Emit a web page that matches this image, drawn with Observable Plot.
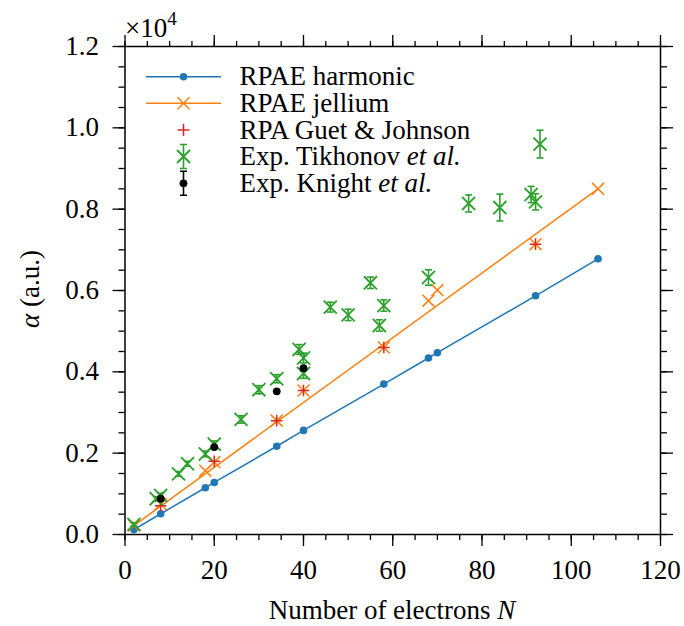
<!DOCTYPE html>
<html><head><meta charset="utf-8">
<script src="https://cdn.jsdelivr.net/npm/d3@7"></script>
<script src="https://cdn.jsdelivr.net/npm/@observablehq/plot@0.6"></script>
<style>body{margin:0;background:#fff}svg{display:block}</style>
</head><body><div id="chart"></div>
<script>
// RPAE harmonic
const harmN = [2, 8, 18, 20, 34, 40, 58, 68, 70, 92, 106];
const harmA = [0.012, 0.051, 0.115, 0.128, 0.217, 0.256, 0.370, 0.434, 0.447, 0.587, 0.678];
// RPAE jellium markers
const jellN = [2, 8, 18, 20, 34, 40, 58, 68, 70, 92, 106];
const jellA = [0.022, 0.075, 0.157, 0.178, 0.280, 0.354, 0.460, 0.575, 0.601, 0.714, 0.850];
// RPAE jellium line (end points)
const jellLineN = [2, 106];
const jellLineA = [0.022, 0.850];
// RPA Guet & Johnson
const gjN = [8, 20, 34, 40, 58, 92];
const gjA = [0.071, 0.180, 0.280, 0.354, 0.460, 0.714];
// Exp. Tikhonov et al.
const tkN = [2, 7, 8, 12, 14, 18, 20, 26, 30, 34, 39, 40, 40, 46, 50, 55, 57, 58, 68, 77, 84, 91, 92, 93];
const tkA = [0.025, 0.088, 0.096, 0.149, 0.174, 0.198, 0.222, 0.283, 0.356, 0.383, 0.455, 0.434, 0.396, 0.559, 0.540, 0.619, 0.514, 0.563, 0.632, 0.814, 0.804, 0.836, 0.818, 0.960];
const tkErr = [0.004, 0.005, 0.005, 0.006, 0.006, 0.007, 0.008, 0.009, 0.010, 0.010, 0.012, 0.012, 0.012, 0.012, 0.014, 0.014, 0.014, 0.014, 0.019, 0.021, 0.033, 0.020, 0.020, 0.034];
// Exp. Knight et al.
const knN = [8, 20, 34, 40];
const knA = [0.088, 0.215, 0.352, 0.409];
const knErr = [0.005, 0.006, 0.007, 0.008];
// ticks
const xMajor = [0, 20, 40, 60, 80, 100, 120];
const xMinor = [0, 5, 10, 15, 20, 25, 30, 35, 40, 45, 50, 55, 60, 65, 70, 75, 80, 85, 90, 95, 100, 105, 110, 115, 120];
const yMajor = [0, 0.2, 0.4, 0.6, 0.8, 1.0, 1.2];
const yMinor = [0, 0.05, 0.1, 0.15, 0.2, 0.25, 0.3, 0.35, 0.4, 0.45, 0.5, 0.55, 0.6, 0.65, 0.7, 0.75, 0.8, 0.85, 0.9, 0.95, 1.0, 1.05, 1.1, 1.15, 1.2];

const BLUE = "#1f77b4", ORANGE = "#ff7f0e", GREEN = "#2ca02c", RED = "#d62728";

const zip = (ns, as, es) => ns.map((n, i) => ({n, a: as[i], e: es ? es[i] : 0}));
const harm = zip(harmN, harmA);
const jell = zip(jellN, jellA);
const jellLine = zip(jellLineN, jellLineA);
const gj = zip(gjN, gjA);
const tk = zip(tkN, tkA, tkErr);
const kn = zip(knN, knA, knErr);

const cap = {draw(ctx, size) { const r = Math.sqrt(size / Math.PI); ctx.moveTo(-r, 0); ctx.lineTo(r, 0); }};
const blank = () => "";
const tw = 1.3;

const plot = Plot.plot({
  width: 684, height: 626,
  marginLeft: 124.5, marginRight: 24, marginTop: 46, marginBottom: 92,
  style: {fontFamily: "'Liberation Serif', serif", fontSize: "27px", background: "#fff", color: "#000"},
  x: {domain: [0, 120]},
  y: {domain: [0, 1.2]},
  marks: [
    Plot.axisX({anchor: "bottom", ticks: xMajor, tickSize: 12, tickPadding: 13, tickFormat: d3.format("d"), label: null, strokeWidth: tw}),
    Plot.axisX({anchor: "bottom", ticks: xMinor, tickSize: 6, tickFormat: blank, label: null, strokeWidth: tw}),
    Plot.axisX({anchor: "top", ticks: xMajor, tickSize: 12, tickFormat: blank, label: null, strokeWidth: tw}),
    Plot.axisX({anchor: "top", ticks: xMinor, tickSize: 6, tickFormat: blank, label: null, strokeWidth: tw}),
    Plot.axisY({anchor: "left", ticks: yMajor, tickSize: 12, tickPadding: 14, tickFormat: d3.format(".1f"), label: null, strokeWidth: tw}),
    Plot.axisY({anchor: "left", ticks: yMinor, tickSize: 6, tickFormat: blank, label: null, strokeWidth: tw}),
    Plot.axisY({anchor: "right", ticks: yMajor, tickSize: 12, tickFormat: blank, label: null, strokeWidth: tw}),
    Plot.axisY({anchor: "right", ticks: yMinor, tickSize: 6, tickFormat: blank, label: null, strokeWidth: tw}),
    Plot.frame({stroke: "#000", strokeWidth: 1.5}),
    Plot.line(harm, {x: "n", y: "a", stroke: BLUE, strokeWidth: 1.5}),
    Plot.dot(harm, {x: "n", y: "a", r: 3.8, fill: BLUE, stroke: "none"}),
    Plot.line(jellLine, {x: "n", y: "a", stroke: ORANGE, strokeWidth: 1.5}),
    Plot.dot(jell, {x: "n", y: "a", symbol: "times", r: 5.5, stroke: ORANGE, strokeWidth: 1.5}),
    Plot.dot(gj, {x: "n", y: "a", symbol: "plus", r: 3.8, stroke: RED, strokeWidth: 1.5}),
    Plot.ruleX(tk, {x: "n", y1: d => d.a - d.e, y2: d => d.a + d.e, stroke: GREEN, strokeWidth: 1.6}),
    Plot.dot(tk, {x: "n", y: d => d.a + d.e, symbol: cap, r: 3.5, stroke: GREEN, strokeWidth: 1.6}),
    Plot.dot(tk, {x: "n", y: d => d.a - d.e, symbol: cap, r: 3.5, stroke: GREEN, strokeWidth: 1.6}),
    Plot.dot(tk, {x: "n", y: "a", symbol: "times", r: 6, stroke: GREEN, strokeWidth: 1.8}),
    Plot.ruleX(kn, {x: "n", y1: d => d.a - d.e, y2: d => d.a + d.e, stroke: "#000", strokeWidth: 1.6}),
    Plot.dot(kn, {x: "n", y: "a", r: 3.9, fill: "#000", stroke: "none"})
  ]
});
document.getElementById("chart").appendChild(plot);

// overlay text and legend
const svg = d3.select(plot);
const F = "'Liberation Serif', serif";
// x label
const xl = svg.append("text").attr("x", 392).attr("y", 619).attr("text-anchor", "middle")
  .attr("font-family", F).attr("font-size", 27).attr("fill", "#000");
xl.append("tspan").text("Number of electrons ");
xl.append("tspan").attr("font-style", "italic").text("N");
// y label
const yl = svg.append("text").attr("transform", "translate(38.5,289) rotate(-90)").attr("text-anchor", "middle")
  .attr("font-family", F).attr("font-size", 27).attr("fill", "#000");
yl.append("tspan").attr("font-style", "italic").text("α");
yl.append("tspan").text(" (a.u.)");
// multiplier
const mt = svg.append("text").attr("x", 125).attr("y", 37).attr("text-anchor", "start")
  .attr("font-family", F).attr("font-size", 27).attr("fill", "#000");
mt.append("tspan").text("×10");
mt.append("tspan").attr("font-size", 19).attr("dy", -12).text("4");

// legend
const legend = [
  {label: ["RPAE harmonic"], type: "harm"},
  {label: ["RPAE jellium"], type: "jell"},
  {label: ["RPA Guet & Johnson"], type: "gj"},
  {label: ["Exp. Tikhonov ", "et al."], type: "tk"},
  {label: ["Exp. Knight ", "et al."], type: "kn"}
];
const rowY = [76.7, 103.3, 130, 156.5, 183.3];
const lx1 = 146, lx2 = 221, mx = 183.5, tx = 239.5;
const lg = svg.append("g");
legend.forEach((d, i) => {
  const y = rowY[i];
  if (d.type === "harm") {
    lg.append("line").attr("x1", lx1).attr("x2", lx2).attr("y1", y).attr("y2", y).attr("stroke", BLUE).attr("stroke-width", 1.5);
    lg.append("circle").attr("cx", mx).attr("cy", y).attr("r", 3.8).attr("fill", BLUE);
  } else if (d.type === "jell") {
    lg.append("line").attr("x1", lx1).attr("x2", lx2).attr("y1", y).attr("y2", y).attr("stroke", ORANGE).attr("stroke-width", 1.5);
    const s = 6;
    lg.append("path").attr("d", `M${mx-s},${y-s}L${mx+s},${y+s}M${mx-s},${y+s}L${mx+s},${y-s}`).attr("stroke", ORANGE).attr("stroke-width", 1.5).attr("fill", "none");
  } else if (d.type === "gj") {
    const s = 6;
    lg.append("path").attr("d", `M${mx-s},${y}L${mx+s},${y}M${mx},${y-s}L${mx},${y+s}`).attr("stroke", RED).attr("stroke-width", 1.5).attr("fill", "none");
  } else if (d.type === "tk") {
    const s = 6.5, e = 12, c = 3.5;
    lg.append("path").attr("d", `M${mx},${y-e}L${mx},${y+e}M${mx-c},${y-e}L${mx+c},${y-e}M${mx-c},${y+e}L${mx+c},${y+e}`).attr("stroke", GREEN).attr("stroke-width", 1.6).attr("fill", "none");
    lg.append("path").attr("d", `M${mx-s},${y-s}L${mx+s},${y+s}M${mx-s},${y+s}L${mx+s},${y-s}`).attr("stroke", GREEN).attr("stroke-width", 1.8).attr("fill", "none");
  } else {
    const e = 12, c = 3.5;
    lg.append("path").attr("d", `M${mx},${y-e}L${mx},${y+e}M${mx-c},${y-e}L${mx+c},${y-e}M${mx-c},${y+e}L${mx+c},${y+e}`).attr("stroke", "#000").attr("stroke-width", 1.6).attr("fill", "none");
    lg.append("circle").attr("cx", mx).attr("cy", y).attr("r", 3.9).attr("fill", "#000");
  }
  const t = lg.append("text").attr("x", tx).attr("y", y + 8.5).attr("text-anchor", "start")
    .attr("font-family", F).attr("font-size", 27).attr("fill", "#000");
  t.append("tspan").text(d.label[0]);
  if (d.label[1]) t.append("tspan").attr("font-style", "italic").text(d.label[1]);
});
</script>
</body></html>
